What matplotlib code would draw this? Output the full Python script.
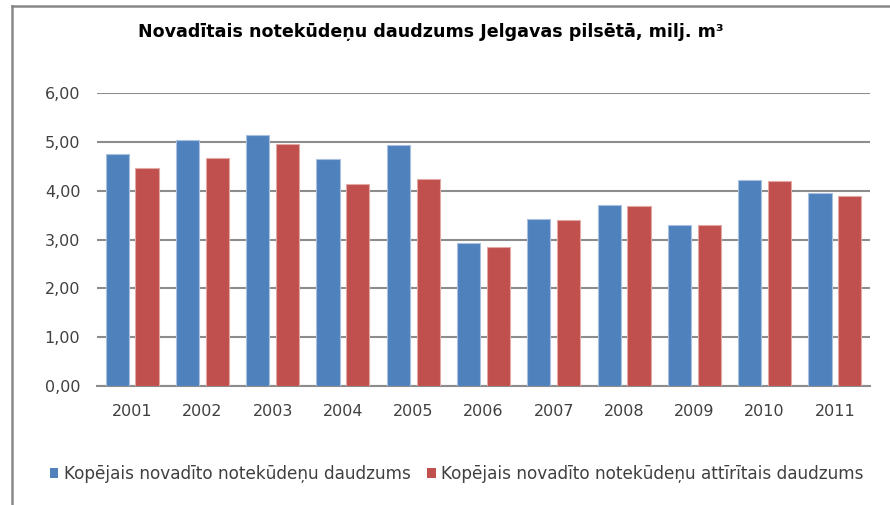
"""
    Novaditais notekudenu daudzums Jelgavas pilseta
"""

import matplotlib
matplotlib.use('Agg')
import matplotlib.pyplot as plt
import numpy as np
from matplotlib.patches import Patch
from matplotlib.lines import Line2D

years = ['2001', '2002', '2003', '2004', '2005', '2006', '2007', '2008', '2009', '2010', '2011']
kopejais = [4.75, 5.03, 5.13, 4.64, 4.94, 2.92, 3.42, 3.70, 3.29, 4.21, 3.95]
attiritais = [4.46, 4.66, 4.96, 4.13, 4.24, 2.84, 3.39, 3.68, 3.29, 4.19, 3.89]
yticks = [0, 1, 2, 3, 4, 5, 6]

names = ['Kopējais novadīto notekūdeņu daudzums',
         'Kopējais novadīto notekūdeņu attīrītais daudzums']

blue = '#4f81bd'
red = '#c0504d'
grid_col = '#8c8c8c'
txt_col = '#404040'

fig = plt.figure(figsize=(8.9, 5.05), dpi=100)
ax = fig.add_axes([97/890, 1-386/505, (870-97)/890, (386-93)/505])

x = np.arange(len(years))
w = 0.33
off = 0.212
ax.bar(x - off, kopejais, w, color=blue, edgecolor='#a9c1de', linewidth=0.8, zorder=3)
ax.bar(x + off, attiritais, w, color=red, edgecolor='#e2a8a6', linewidth=0.8, zorder=3)

ax.set_xlim(-0.5, len(years) - 0.5)
ax.set_ylim(0, 6)
ax.set_yticks(yticks)
ax.set_yticklabels(['{:.2f}'.format(v).replace('.', ',') for v in yticks])
ax.set_xticks(x)
ax.set_xticklabels(years)

ax.yaxis.grid(True, color=grid_col, linewidth=1.5, zorder=0)
ax.set_axisbelow(True)
for s in ['top', 'right', 'left']:
    ax.spines[s].set_visible(False)
ax.spines['bottom'].set_color(grid_col)
ax.spines['bottom'].set_linewidth(1.5)

ax.tick_params(axis='y', length=0, pad=12, labelsize=11.5, labelcolor=txt_col)
ax.tick_params(axis='x', length=0, pad=13, labelsize=11.5, labelcolor=txt_col)

fig.text(431/890, 1-32/505, 'Novadītais notekūdeņu daudzums Jelgavas pilsētā, milj. m³',
         ha='center', va='center', fontsize=12.6, fontweight='bold', color='black')

# legend
handles = [Patch(facecolor=blue, edgecolor='none'), Patch(facecolor=red, edgecolor='none')]
fig.legend(handles, names, loc='center left', bbox_to_anchor=(50/890, 1-474/505),
           ncol=2, frameon=False, fontsize=12.2, borderpad=0, borderaxespad=0,
           handlelength=0.5, handleheight=0.5, handletextpad=0.3, columnspacing=1.0,
           labelcolor=txt_col)

# chart frame (left and top border)
fig.add_artist(Line2D([12/890, 12/890], [0, 1-6/505], color='#888888', linewidth=1.8))
fig.add_artist(Line2D([12/890, 1], [1-6/505, 1-6/505], color='#888888', linewidth=1.8))

fig.savefig('out.png', dpi=100)
